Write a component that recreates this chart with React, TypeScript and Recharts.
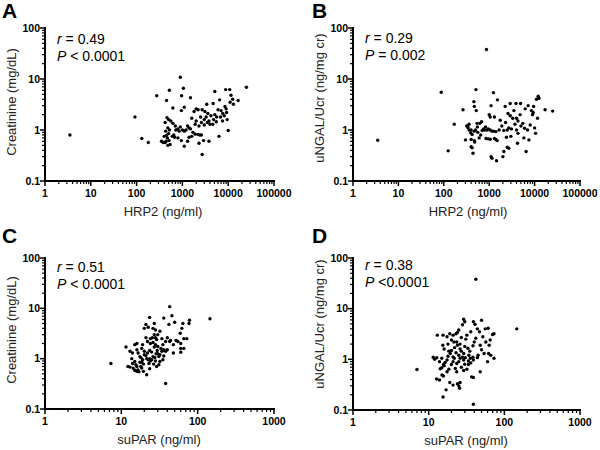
import React from 'react'
import { ScatterChart, Scatter, XAxis, YAxis } from 'recharts'

// values: [x, y]
const hrp2Creatinine: [number, number][] = [
  [3.5, 0.8], [92, 1.8], [130, 0.68], [180, 0.57], [275, 4.7], [520, 6.0], [450, 3.8], [900, 10.8],
  [1050, 6.6], [960, 4.7], [1500, 4.3], [620, 2.7], [1100, 2.8], [950, 2.4], [5100, 5.7], [8800, 6.2],
  [10800, 6.2], [25000, 6.9], [11500, 4.8], [12500, 4.0], [13000, 3.2], [16500, 3.8], [6500, 3.9], [4700, 3.3],
  [3400, 3.2], [8500, 2.9], [9000, 2.6], [9200, 2.2], [7600, 2.1], [5600, 1.8], [4800, 1.6], [4200, 1.9],
  [3600, 2.1], [3100, 2.3], [2700, 2.5], [2200, 2.5], [2500, 1.8], [2000, 1.5], [9500, 1.6], [3500, 1.4],
  [4000, 1.3], [4600, 1.3], [3000, 1.25], [2600, 1.4], [2300, 1.2], [6300, 0.75], [10000, 0.98], [3800, 0.6],
  [2700, 0.33], [2400, 0.8], [2600, 0.8], [2200, 0.82], [1900, 0.83], [1600, 0.75], [1400, 0.72], [1300, 0.6],
  [1100, 0.48], [2300, 0.55], [1000, 1.0], [1100, 0.95], [850, 0.95], [800, 1.05], [900, 1.15], [700, 1.2],
  [620, 1.35], [560, 1.5], [500, 1.6], [460, 1.75], [420, 1.4], [480, 1.1], [520, 1.0], [430, 0.95],
  [500, 0.85], [450, 0.78], [470, 0.7], [380, 0.57], [420, 0.57], [440, 0.6], [510, 0.62], [540, 0.52],
  [480, 0.5], [600, 0.75], [680, 0.72], [650, 0.8], [1300, 1.2], [1400, 1.1], [1200, 1.0], [1600, 1.7],
  [1800, 2.3], [2000, 2.6], [6000, 2.5], [7000, 2.4], [5500, 1.45], [6800, 1.8], [7500, 1.5], [8200, 1.9],
  [11000, 3.5], [800, 0.7], [950, 0.62], [1700, 0.9], [3000, 1.6], [3300, 1.8], [720, 1.0], [350, 0.6],
  [400, 0.75], [1900, 1.3], [1500, 1.05], [3800, 1.5], [5100, 2.0], [2900, 0.62],
]

const hrp2Ngal: [number, number][] = [
  [3.5, 0.63], [88, 5.5], [125, 0.39], [170, 1.3], [265, 2.5], [870, 38], [510, 6.2], [1240, 5.4],
  [1520, 3.9], [460, 3.6], [470, 2.9], [520, 2.4], [1100, 3.0], [1000, 2.0], [1050, 1.8], [1750, 1.55],
  [2250, 2.9], [2900, 3.3], [3900, 3.3], [4900, 3.3], [7200, 3.0], [8500, 2.4], [9000, 2.0], [11000, 4.0],
  [12000, 4.6], [12500, 4.2], [17000, 2.5], [25000, 2.35], [11600, 1.7], [10500, 0.86], [7000, 1.0], [6500, 0.38],
  [7500, 0.64], [4200, 0.55], [5000, 1.2], [5500, 1.35], [4800, 2.0], [4000, 1.7], [4300, 1.5], [3700, 1.3],
  [2700, 1.1], [3100, 1.05], [2500, 1.0], [2100, 0.98], [2400, 0.72], [2500, 0.46], [2700, 0.44], [2100, 0.38],
  [2000, 0.3], [1450, 0.25], [1100, 0.3], [1150, 0.28], [1300, 0.68], [1400, 0.65], [1500, 0.62], [950, 1.05],
  [900, 1.0], [1050, 1.0], [800, 1.0], [750, 1.05], [700, 0.98], [850, 0.68], [950, 0.67], [1050, 0.66],
  [1150, 0.95], [1250, 0.95], [1400, 0.93], [500, 1.0], [550, 1.15], [470, 0.95], [420, 0.82], [400, 1.0],
  [390, 0.88], [400, 0.65], [470, 0.62], [480, 0.58], [360, 1.0], [340, 1.12], [320, 1.2], [360, 1.3],
  [300, 0.64], [540, 1.35], [620, 1.35], [680, 1.45], [420, 0.45], [440, 0.35], [400, 0.47], [830, 1.15],
  [4300, 0.86], [4000, 1.0], [6000, 1.08], [8000, 1.25], [3300, 1.7], [2900, 1.9], [2600, 2.1], [3500, 2.4],
  [6200, 2.6], [9500, 2.9], [10000, 1.1], [1300, 1.8], [1900, 1.2], [2300, 1.4], [5800, 0.7], [3000, 0.75],
  [9300, 2.2], [650, 0.8], [600, 0.7], [560, 0.9], [1650, 1.0],
]

const suparCreatinine: [number, number][] = [
  [7.3, 0.8], [145, 6.2], [38, 0.32], [43, 10.8], [46, 7.1], [78, 5.8], [77, 5.0], [64, 5.0],
  [62, 4.0], [50, 5.3], [42, 4.8], [36, 6.4], [23.5, 6.6], [27, 5.0], [21, 4.8], [22.5, 4.2],
  [20, 4.0], [26, 4.0], [28, 3.7], [32, 3.5], [40, 2.6], [43, 2.2], [59, 3.2], [72, 2.5],
  [66, 2.5], [60, 2.0], [55, 2.2], [60, 1.6], [60, 1.34], [48, 1.9], [38, 1.4], [36, 1.13],
  [32, 1.2], [29, 2.4], [30, 1.75], [27, 3.0], [28, 2.6], [25.5, 2.6], [24, 2.5], [21, 2.6],
  [19, 1.9], [18.5, 1.6], [20, 1.4], [22, 1.3], [23.5, 1.45], [25, 1.35], [27, 1.7], [28, 1.9],
  [30, 1.25], [31, 1.1], [34, 1.4], [36, 1.5], [32, 0.88], [31, 0.76], [29, 0.7], [26.5, 0.78],
  [23, 0.8], [24, 0.9], [22.5, 0.95], [23.5, 1.0], [21.5, 1.0], [21, 1.15], [16.6, 1.3], [17.5, 1.1],
  [16, 1.5], [15, 1.9], [16, 2.0], [13, 1.4], [11.5, 1.7], [14, 1.3], [13.7, 1.0], [15, 0.88],
  [15.5, 0.76], [16, 0.7], [14.3, 0.65], [14.8, 0.6], [16, 0.56], [17, 0.55], [16.5, 0.6], [15.2, 0.58],
  [18.5, 0.65], [19.5, 0.56], [21.5, 0.48], [23.5, 0.63], [12.2, 0.7], [13, 0.68], [17.5, 0.85], [18.5, 0.85],
  [19.5, 0.78], [48, 1.3], [26, 1.1], [27.5, 1.05], [28.5, 1.25], [29.5, 1.45], [33, 1.6], [35, 1.9],
  [38, 2.2], [26, 2.1], [24, 2.0], [22, 2.2], [20, 1.2], [18, 1.05], [19, 0.95], [25, 0.95],
  [28, 0.9], [35, 0.95], [40, 1.5], [44, 2.3], [52, 2.3], [66, 1.6], [34, 2.5], [30, 3.0],
  [18, 0.7], [14, 0.8],
]

const suparNgal: [number, number][] = [
  [7, 0.63], [146, 4.0], [42, 38], [39, 0.13], [15.5, 0.18], [17, 0.25], [25.6, 0.27], [25, 0.3],
  [21, 0.31], [29, 6.2], [30, 5.5], [39, 5.5], [41, 4.9], [50, 5.9], [56, 4.0], [61, 4.1],
  [70, 3.1], [73, 3.2], [65, 2.4], [47, 3.5], [42, 2.6], [36, 3.5], [32, 3.0], [28, 4.8],
  [25, 3.8], [24, 3.4], [23, 3.2], [21, 3.0], [19, 3.2], [17.5, 2.8], [13, 3.0], [15.5, 3.0],
  [20, 2.4], [21.5, 2.2], [23.5, 2.2], [24, 1.9], [26, 2.0], [30, 1.8], [33, 1.65], [35, 1.45],
  [27, 1.45], [29, 1.3], [48, 1.9], [50, 1.55], [54, 1.3], [57, 2.2], [63, 1.9], [62, 1.3],
  [66, 1.2], [73, 1.05], [44, 1.08], [45, 1.2], [39, 0.97], [38.5, 1.1], [35.5, 1.05], [33.5, 0.93],
  [30.5, 1.08], [29, 0.97], [26, 1.05], [25, 0.9], [23.5, 0.83], [21.8, 1.05], [21, 1.12], [19.3, 1.3],
  [18.5, 1.45], [17.5, 0.97], [16.5, 0.87], [14.9, 1.05], [13.9, 0.9], [12.8, 1.08], [12, 1.0], [15.7, 0.79],
  [14.9, 0.68], [14.2, 0.65], [17.5, 0.57], [18.5, 0.64], [20, 0.79], [22.5, 0.66], [23.5, 0.57], [27, 0.7],
  [29, 0.6], [32, 0.64], [33.5, 0.79], [37, 0.45], [39, 0.44], [48, 0.57], [12.7, 0.41], [13.9, 0.39],
  [15, 0.49], [15.7, 0.47], [19, 0.35], [26, 0.35], [24, 0.33], [15.4, 1.9], [16, 1.6], [23, 1.35],
  [25, 1.2], [38.5, 1.85], [44, 4.0], [31, 2.5], [27, 2.7], [22, 1.7], [20, 1.5], [34, 1.2],
  [28, 1.1], [18, 1.15], [16, 0.75], [36, 0.85], [40, 2.2], [52, 2.8], [11.5, 1.1], [60, 0.9],
  [30, 0.8], [21, 0.9], [18, 2.0], [26, 1.6],
]

const FONT = 'Arial, "Liberation Sans", Helvetica, sans-serif'

// 1,2,...9,10,20,... up to 10^hi
function logTicks(lo: number, hi: number) {
  const out: number[] = []
  for (let e = lo; e < hi; e++) {
    for (let m = 1; m < 10; m++) out.push(Number((m * Math.pow(10, e)).toPrecision(3)))
  }
  out.push(Math.pow(10, hi))
  return out
}

const isMajor = (v: number) => {
  const l = Math.log10(v)
  return Math.abs(l - Math.round(l)) < 1e-6
}

function XTick(props: any) {
  const { x, y, payload } = props
  const major = isMajor(payload.value)
  return (
    <g>
      <line x1={x} x2={x} y1={y} y2={y + (major ? 5 : 3)} stroke="#000" strokeWidth={major ? 1.5 : 1.2} />
      {major && (
        <text x={x} y={y + 16} textAnchor="middle" fontSize={10.5} fontWeight="bold" fontFamily={FONT} fill="#000">
          {payload.value}
        </text>
      )}
    </g>
  )
}

function YTick(props: any) {
  const { x, y, payload } = props
  const major = isMajor(payload.value)
  return (
    <g>
      <line x1={x} x2={x - (major ? 5 : 3)} y1={y} y2={y} stroke="#000" strokeWidth={major ? 1.5 : 1.2} />
      {major && (
        <text x={x - 5} y={y + 3.5} textAnchor="end" fontSize={10.5} fontWeight="bold" fontFamily={FONT} fill="#000">
          {payload.value}
        </text>
      )}
    </g>
  )
}

const Dot = (props: any) => <circle cx={props.cx} cy={props.cy} r={1.7} fill="#000" />

interface PanelProps {
  left: number
  top: number
  data: [number, number][]
  xMaxExp: number
  plot: { l: number; r: number; t: number; b: number }
  letter: string
  rText: string
  pText: React.ReactNode
  xLabel: string
  yLabel: string
  xLabelX: number
  yLabelY: number
  statY: number
}

function Panel(p: PanelProps) {
  const W = 300
  const H = 225
  const xTicks = logTicks(0, p.xMaxExp)
  const yTicks = logTicks(-1, 2)
  const points = p.data.map(([x, y]) => ({ x, y }))
  const statX = p.plot.l + 12
  return (
    <div style={{ position: 'absolute', left: p.left, top: p.top, width: W, height: H }}>
      <ScatterChart
        width={W}
        height={H}
        margin={{ top: p.plot.t, right: W - p.plot.r, bottom: H - p.plot.b - 30, left: p.plot.l - 40 }}
      >
        <XAxis
          type="number"
          dataKey="x"
          scale="log"
          domain={[1, Math.pow(10, p.xMaxExp)]}
          ticks={xTicks}
          interval={0}
          allowDataOverflow
          height={30}
          axisLine={{ stroke: '#000', strokeWidth: 2, strokeLinecap: 'square' }}
          tickLine={false}
          tickSize={0}
          tickMargin={0}
          tick={<XTick />}
        />
        <YAxis
          type="number"
          dataKey="y"
          scale="log"
          domain={[0.1, 100]}
          ticks={yTicks}
          interval={0}
          allowDataOverflow
          width={40}
          axisLine={{ stroke: '#000', strokeWidth: 2, strokeLinecap: 'square' }}
          tickLine={false}
          tickSize={0}
          tickMargin={0}
          tick={<YTick />}
        />
        <Scatter data={points} isAnimationActive={false} shape={Dot} />
      </ScatterChart>
      <svg
        width={W}
        height={H}
        style={{ position: 'absolute', left: 0, top: 0, pointerEvents: 'none' }}
        fontFamily={FONT}
      >
        <text x={p.letter === 'A' || p.letter === 'C' ? 2 : 12} y={18} fontSize={21} fontWeight="bold" fill="#000">
          {p.letter}
        </text>
        <text x={statX} y={p.statY} fontSize={14} fill="#000">
          <tspan fontStyle="italic">r</tspan>
          {p.rText}
        </text>
        <text x={statX} y={p.statY + 17} fontSize={14} fill="#000">
          <tspan fontStyle="italic">P</tspan>
          {p.pText}
        </text>
        <text x={p.xLabelX} y={p.plot.b + 35} fontSize={13} textAnchor="middle" fill="#222">
          {p.xLabel}
        </text>
        <text
          x={p.plot.l - 29}
          y={p.yLabelY}
          fontSize={13}
          textAnchor="middle"
          fill="#222"
          transform={`rotate(-90, ${p.plot.l - 29}, ${p.yLabelY})`}
        >
          {p.yLabel}
        </text>
      </svg>
    </div>
  )
}

export default function App() {
  return (
    <div style={{ position: 'absolute', left: 0, top: 0, width: 600, height: 450, background: '#fff' }}>
      <Panel
        left={0}
        top={0}
        data={hrp2Creatinine}
        xMaxExp={5}
        plot={{ l: 45, r: 274, t: 28, b: 181 }}
        letter="A"
        rText=" = 0.49"
        pText=" < 0.0001"
        xLabel="HRP2 (ng/ml)"
        yLabel="Creatinine (mg/dL)"
        xLabelX={163}
        yLabelY={102}
        statY={44}
      />
      <Panel
        left={300}
        top={0}
        data={hrp2Ngal}
        xMaxExp={5}
        plot={{ l: 53, r: 280, t: 28, b: 181 }}
        letter="B"
        rText=" = 0.29"
        pText=" = 0.002"
        xLabel="HRP2 (ng/ml)"
        yLabel="uNGAL/Ucr (ng/mg cr)"
        xLabelX={168}
        yLabelY={98}
        statY={43}
      />
      <Panel
        left={0}
        top={225}
        data={suparCreatinine}
        xMaxExp={3}
        plot={{ l: 45, r: 274, t: 33, b: 184 }}
        letter="C"
        rText=" = 0.51"
        pText=" < 0.0001"
        xLabel="suPAR (ng/ml)"
        yLabel="Creatinine (mg/dL)"
        xLabelX={159}
        yLabelY={105}
        statY={47}
      />
      <Panel
        left={300}
        top={225}
        data={suparNgal}
        xMaxExp={3}
        plot={{ l: 53, r: 280, t: 33, b: 185 }}
        letter="D"
        rText=" = 0.38"
        pText=" <0.0001"
        xLabel="suPAR (ng/ml)"
        yLabel="uNGAL/Ucr (ng/mg cr)"
        xLabelX={166}
        yLabelY={99}
        statY={45}
      />
    </div>
  )
}
